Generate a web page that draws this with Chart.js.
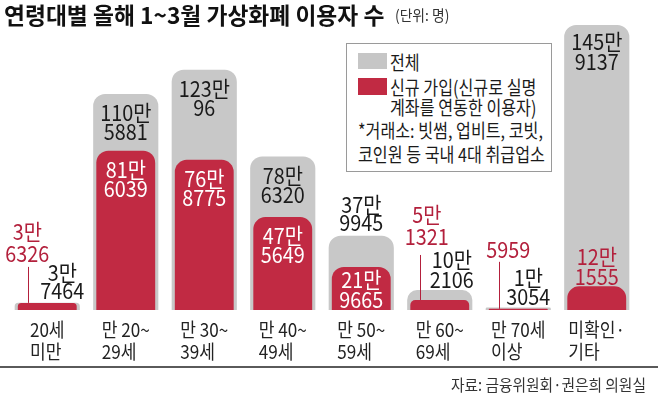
<!DOCTYPE html>
<html><head><meta charset="utf-8">
<script src="https://cdn.jsdelivr.net/npm/chart.js@4/dist/chart.umd.min.js"></script>
<style>
body{margin:0;background:#fff;width:658px;height:394px;overflow:hidden;position:relative;font-family:"Noto Sans CJK KR","Noto Sans",sans-serif;color:#1a1a1a}
#c{position:absolute;left:0;top:0}
.t{position:absolute;white-space:nowrap;transform-origin:0 50%;line-height:1}
.lg{font-size:19px;transform:scaleX(0.85)}
.sw{position:absolute}
</style></head><body>
<canvas id="c" width="658" height="394"></canvas>
<div class="t" style="left:4px;top:3px;font-size:23px;font-weight:700;transform:scaleX(0.99);color:#111">연령대별 올해 1~3월 가상화폐 이용자 수</div>
<div class="t" style="left:395px;top:7px;font-size:15px;transform:scaleX(0.92);color:#333">(단위: 명)</div>
<div style="position:absolute;left:346px;top:43px;width:204px;height:127px;border:1px solid #9a9a9a;background:#fff"></div>
<div class="sw" style="left:358px;top:53px;width:29px;height:16px;background:#c6c6c6"></div>
<div class="sw" style="left:358px;top:78px;width:29px;height:17px;background:#c12a43"></div>
<div class="t lg" style="left:390px;top:52px">전체</div>
<div class="t lg" style="left:390px;top:77px">신규 가입(신규로 실명</div>
<div class="t lg" style="left:390px;top:97px">계좌를 연동한 이용자)</div>
<div class="t lg" style="left:358px;top:120px">*거래소: 빗썸, 업비트, 코빗,</div>
<div class="t lg" style="left:358px;top:144px">코인원 등 국내 4대 취급업소</div>
<div style="position:absolute;left:0;top:366px;width:658px;height:2px;background:#5a5a5a"></div>
<div class="t" style="right:12px;top:376px;font-size:16px;color:#333;transform:scaleX(0.92);transform-origin:100% 50%">자료: 금융위원회·권은희 의원실</div>
<script>
const categories = [['20세','미만'],['만 20~','29세'],['만 30~','39세'],['만 40~','49세'],['만 50~','59세'],['만 60~','69세'],['만 70세','이상'],['미확인·','기타']];
const totalUsers = [37464, 1105881, 1230096, 786320, 379945, 102106, 13054, 1459137];
const newUsers = [36326, 816039, 768775, 475649, 219665, 51321, 5959, 121555];
const yMax = 1485000;

const RED = '#c12a43', RED_TXT = '#b3203c', GREY = '#c8c8c8';
const FONT = '"Noto Sans CJK KR","Noto Sans",sans-serif';
const SX = 0.9;

function fmt(n){ return n >= 10000 ? [Math.floor(n/10000)+'만', String(n%10000)] : [String(n)]; }
function txt(ctx, s, x, y, color, size, align){
  ctx.save(); ctx.translate(x, y); ctx.scale(SX, 1);
  ctx.fillStyle = color; ctx.font = size + 'px ' + FONT;
  ctx.textAlign = align || 'center'; ctx.textBaseline = 'middle';
  ctx.fillText(s, 0, 0); ctx.restore();
}

const greyPos = {0:{dx:15,dy:[-30,-12]},1:{dx:0,dy:[19,38]},2:{dx:0,dy:[19,38]},3:{dx:0,dy:[19,38]},4:{dx:0,dy:[-31,-13]},5:{dx:12,dy:[-30,-10]},6:{dx:10,dy:[-30,-11]},7:{dx:0,dy:[17,37]}};
const redPos = {0:{dx:-20,dy:[-71,-49],c:RED_TXT,lx:-19,ly:-36},1:{dx:0,dy:[19,38],c:'#fff'},2:{dx:0,dy:[19,38],c:'#fff'},3:{dx:0,dy:[19,38],c:'#fff'},4:{dx:0,dy:[13,33],c:'#fff'},5:{dx:-13,dy:[-85,-63],c:RED_TXT,lx:-20,ly:-45},6:{dx:-10,dy:[-59],c:RED_TXT,lx:-19,ly:-47},7:{dx:0,dy:[-30,-10],c:RED_TXT}};

const labelPlugin = {
  id:'labels',
  afterDatasetsDraw(chart){
    const ctx = chart.ctx;
    const redMeta = chart.getDatasetMeta(0), greyMeta = chart.getDatasetMeta(1);
    const xs = chart.scales.x;
    categories.forEach((cat, i) => {
      const g = greyMeta.data[i], r = redMeta.data[i];
      const gp = greyPos[i], rp = redPos[i];
      fmt(totalUsers[i]).forEach((s, k) => txt(ctx, s, g.x + gp.dx, g.y + gp.dy[k], '#1a1a1a', 22));
      fmt(newUsers[i]).forEach((s, k) => txt(ctx, s, r.x + rp.dx, r.y + rp.dy[k], rp.c, 22));
      if (rp.lx !== undefined) {
        ctx.save(); ctx.strokeStyle = RED_TXT; ctx.lineWidth = 1;
        ctx.beginPath(); ctx.moveTo(Math.round(r.x + rp.lx) + 0.5, r.y + rp.ly); ctx.lineTo(Math.round(r.x + rp.lx) + 0.5, r.y); ctx.stroke(); ctx.restore();
      }
      const cx = xs.getPixelForValue(i);
      ctx.save(); ctx.font = '19px ' + FONT;
      const w = Math.max(...cat.map(s => ctx.measureText(s).width)) * SX;
      ctx.restore();
      cat.forEach((s, k) => txt(ctx, s, cx - w/2, 330 + k*22, '#222', 19, 'left'));
    });
  }
};

const radius = {topLeft:12, topRight:12, bottomLeft:0, bottomRight:0};
new Chart(document.getElementById('c'), {
  type:'bar',
  data:{
    labels: categories.map(c => c.join(' ')),
    datasets:[
      {label:'신규 가입', data:newUsers, backgroundColor:RED, barPercentage:0.75, categoryPercentage:1, grouped:false, order:0, borderRadius:radius, borderSkipped:'bottom'},
      {label:'전체', data:totalUsers, backgroundColor:GREY, barPercentage:0.83, categoryPercentage:1, grouped:false, order:1, borderRadius:radius, borderSkipped:'bottom'}
    ]
  },
  options:{
    responsive:false, animation:false, devicePixelRatio:1,
    layout:{padding:{left:8, right:22, top:20, bottom:84}},
    scales:{x:{display:false}, y:{display:false, min:0, max:yMax}},
    plugins:{legend:{display:false}, tooltip:{enabled:false}}
  },
  plugins:[labelPlugin]
});
</script>
</body></html>
